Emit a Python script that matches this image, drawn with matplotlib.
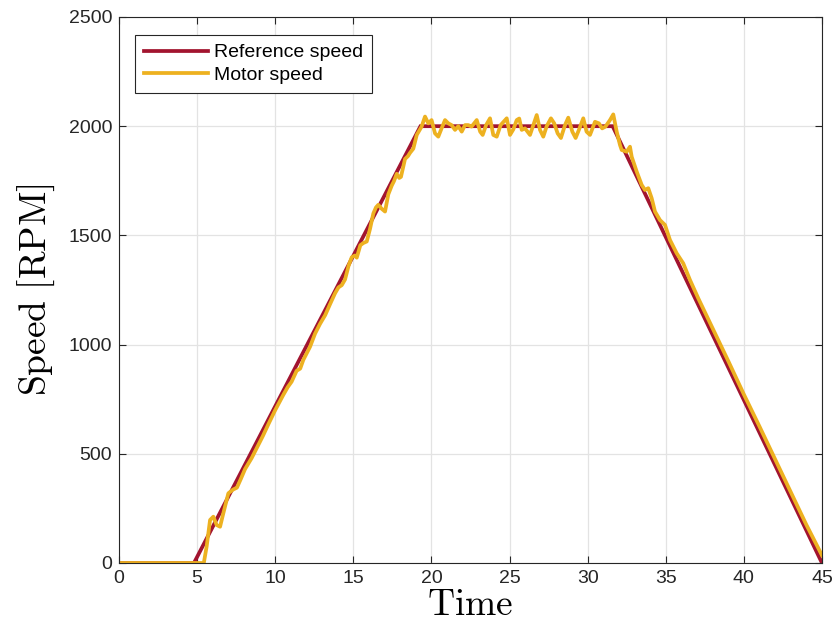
import matplotlib
matplotlib.use("Agg")
import matplotlib.pyplot as plt

plt.rcParams["font.family"] = ["Liberation Sans", "DejaVu Sans"]
plt.rcParams["mathtext.fontset"] = "cm"

# Reference speed profile (ramp up, hold, ramp down)
ref_time = [0.0, 4.8, 19.3, 31.6, 45.0]
ref_speed = [0, 0, 2000, 2000, 0]

# Measured motor speed
motor_time = [
    0.0, 5.43, 5.61, 5.83, 6.04, 6.25, 6.47, 6.68, 7.0, 7.3, 7.55, 7.8,
    8.07, 8.49, 8.92, 9.2, 9.56, 10.0, 10.52, 10.8, 11.05, 11.37, 11.6, 11.8,
    12.23, 12.55, 12.87, 13.2, 13.51, 13.83, 14.05, 14.26, 14.47, 14.7, 14.9,
    15.1, 15.22, 15.45, 15.64, 15.86, 16.07, 16.28, 16.45, 16.6, 16.8, 17.03,
    17.24, 17.46, 17.6, 17.78, 17.94, 18.05, 18.31, 18.5, 18.63, 18.84, 19.06,
    19.37, 19.59, 19.80, 20.01, 20.23, 20.44, 20.65, 20.87, 21.08, 21.29,
    21.51, 21.72, 21.94, 22.15, 22.36, 22.57, 22.90, 23.12, 23.28, 23.50,
    23.75, 23.96, 24.18, 24.43, 24.82, 25.03, 25.24, 25.46, 25.62, 25.78,
    25.99, 26.31, 26.52, 26.74, 26.95, 27.16, 27.38, 27.65, 27.86, 28.08,
    28.29, 28.55, 28.76, 29.02, 29.23, 29.44, 29.72, 29.93, 30.15, 30.47,
    30.72, 30.93, 31.14, 31.43, 31.64, 31.86, 32.07, 32.18, 32.50, 32.71,
    32.82, 33.14, 33.46, 33.67, 33.88, 34.10, 34.31, 34.63, 34.95, 35.27,
    35.70, 36.12, 36.55, 37.08, 38.0, 39.0, 40.0, 41.0, 42.0, 43.0, 44.0,
    45.0,
]
motor_speed = [
    0, 0, 75, 197, 212, 174, 166, 228, 319, 336, 345, 385,
    430, 480, 540, 580, 635, 700, 770, 805, 830, 880, 890, 930,
    990, 1050, 1095, 1135, 1185, 1235, 1262, 1272, 1298, 1362, 1400,
    1408, 1398, 1455, 1465, 1472, 1530, 1600, 1628, 1640, 1623, 1609,
    1688, 1728, 1748, 1782, 1763, 1768, 1850, 1863, 1878, 1897, 1960,
    1998, 2044, 2013, 2028, 1967, 1952, 1990, 2028, 2013, 2005,
    1983, 2000, 1975, 2005, 2005, 1998, 2028, 1975, 1960, 2005,
    2036, 1960, 1952, 2005, 2036, 1960, 1985, 2028, 2035, 1983,
    1990, 1960, 2005, 2051, 1983, 1952, 2000, 2036, 2013, 1967,
    1946, 2005, 2039, 1975, 1946, 1983, 2036, 1975, 1960, 2020,
    2013, 1990, 1998, 2028, 2054, 1975, 1914, 1891, 1883, 1906,
    1860, 1792, 1731, 1708, 1716, 1670, 1609, 1570, 1548, 1479,
    1418, 1372, 1296, 1212, 1075, 925, 772, 625, 475, 325, 175,
    35,
]

x_ticks = [0, 5, 10, 15, 20, 25, 30, 35, 40, 45]
y_ticks = [0, 500, 1000, 1500, 2000, 2500]

fig = plt.figure(figsize=(8.35, 6.36), dpi=100)
ax = fig.add_axes([0.1425, 0.1148, 0.8419, 0.8585])

ax.plot(ref_time, ref_speed, color="#A2142F", lw=2.7, label="Reference speed",
        solid_joinstyle="miter")
ax.plot(motor_time, motor_speed, color="#EDB120", lw=2.7, label="Motor speed")

ax.set_xlim(0, 45)
ax.set_ylim(0, 2500)
ax.set_xticks(x_ticks)
ax.set_yticks(y_ticks)
ax.tick_params(direction="in", length=5, width=0.8, labelsize=14,
               colors="#262626", top=True, right=True, pad=5)
ax.grid(True, color="#e3e3e3", lw=0.9)
ax.set_axisbelow(True)
for s in ax.spines.values():
    s.set_color("#262626")
    s.set_linewidth(0.8)

ax.set_xlabel(r"$\mathrm{Time}$", fontsize=27, labelpad=0)
ax.set_ylabel(r"$\mathrm{Speed\ [RPM]}$", fontsize=27, labelpad=8)

leg = ax.legend(loc="upper left", bbox_to_anchor=(0.0228, 0.967),
                borderaxespad=0, fontsize=14, handlelength=3.3,
                handletextpad=0.3, borderpad=0.45, labelspacing=0.25,
                fancybox=False, framealpha=1, edgecolor="#262626")
leg.get_frame().set_linewidth(0.8)

fig.savefig("out.png", dpi=100)
